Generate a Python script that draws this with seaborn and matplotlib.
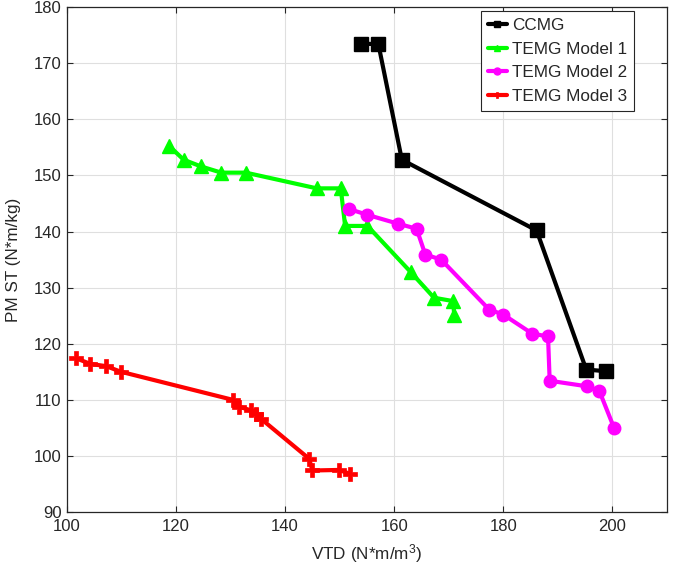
import matplotlib
matplotlib.use("Agg")
import matplotlib.pyplot as plt
import seaborn as sns
import pandas as pd

# VTD (x) and PM ST (y) for each machine design
ccmg_vtd = [154.0, 157.1, 161.4, 186.1, 195.2, 198.8]
ccmg_st = [173.5, 173.4, 152.8, 140.2, 115.4, 115.1]

m1_vtd = [118.7, 121.4, 124.6, 128.3, 132.8, 145.8, 150.2, 151.0, 155.1, 163.1, 167.3, 170.8, 171.0]
m1_st = [155.3, 152.8, 151.6, 150.5, 150.5, 147.7, 147.7, 141.0, 141.0, 132.7, 128.2, 127.6, 125.1]

m2_vtd = [151.8, 155.0, 160.7, 164.1, 165.7, 168.6, 177.4, 180.0, 185.3, 188.2, 188.5, 195.4, 197.6, 200.3]
m2_st = [144.0, 143.0, 141.4, 140.5, 135.9, 135.0, 126.1, 125.2, 121.8, 121.3, 113.4, 112.4, 111.6, 105.0]

m3_vtd = [101.7, 104.3, 107.2, 109.9, 130.4, 131.5, 133.8, 134.6, 135.6, 144.4, 145.0, 149.9, 151.9]
m3_st = [117.4, 116.4, 116.0, 115.0, 110.0, 108.8, 108.1, 107.4, 106.6, 99.5, 97.4, 97.5, 96.8]

series_names = ["CCMG", "TEMG Model 1", "TEMG Model 2", "TEMG Model 3"]
series_x = [ccmg_vtd, m1_vtd, m2_vtd, m3_vtd]
series_y = [ccmg_st, m1_st, m2_st, m3_st]

x_ticks = [100, 120, 140, 160, 180, 200]
y_ticks = [90, 100, 110, 120, 130, 140, 150, 160, 170, 180]

sns.set_theme(style="whitegrid")
plt.rcParams["font.family"] = ["Liberation Sans", "DejaVu Sans"]
plt.rcParams["mathtext.default"] = "regular"

styles = {
    "CCMG": dict(color="#000000", marker="s", ms=9.5, mew=1.0),
    "TEMG Model 1": dict(color="#00ff00", marker="^", ms=10, mew=1.0),
    "TEMG Model 2": dict(color="#ff00ff", marker="o", ms=9, mew=1.0),
    "TEMG Model 3": dict(color="#ff0000", marker="P", ms=9.5, mew=0.5),
}

fig = plt.figure(figsize=(6.83, 5.74), dpi=100)
ax = fig.add_axes([0.098, 0.108, 0.8785, 0.8795])

for name, xs, ys in zip(series_names, series_x, series_y):
    df = pd.DataFrame({"VTD": xs, "ST": ys})
    st = styles[name]
    sns.lineplot(data=df, x="VTD", y="ST", ax=ax, sort=False, estimator=None,
                 color=st["color"], linewidth=3.0, marker=st["marker"],
                 markersize=st["ms"], markeredgecolor=st["color"],
                 markeredgewidth=st["mew"], label=name)

ax.set_xlim(100, 210)
ax.set_ylim(90, 180)
ax.set_xticks(x_ticks)
ax.set_yticks(y_ticks)
ax.set_xlabel("VTD (N*m/m$^{3}$)", fontsize=12.3, color="#262626", labelpad=6)
ax.set_ylabel("PM ST (N*m/kg)", fontsize=12.3, color="#262626", labelpad=9)
ax.tick_params(axis="both", which="both", direction="in", length=4, width=0.8,
               colors="#262626", labelsize=12, top=True, right=True,
               bottom=True, left=True)
ax.tick_params(axis="x", pad=5)
ax.tick_params(axis="y", pad=4)
ax.grid(True, color="#dfdfdf", linewidth=0.8)
ax.set_facecolor("white")
for sp in ax.spines.values():
    sp.set_visible(True)
    sp.set_color("#262626")
    sp.set_linewidth(0.9)

leg = ax.legend(loc="upper right", bbox_to_anchor=(0.945, 0.992), fontsize=12.3,
                frameon=True, fancybox=False, framealpha=1.0, edgecolor="#262626",
                handlelength=1.1, handletextpad=0.3, borderpad=0.4,
                labelspacing=0.5, borderaxespad=0.0)
leg.get_frame().set_linewidth(0.8)
for h in leg.legend_handles:
    h.set_markersize(5)

fig.savefig("out.png", dpi=100)
